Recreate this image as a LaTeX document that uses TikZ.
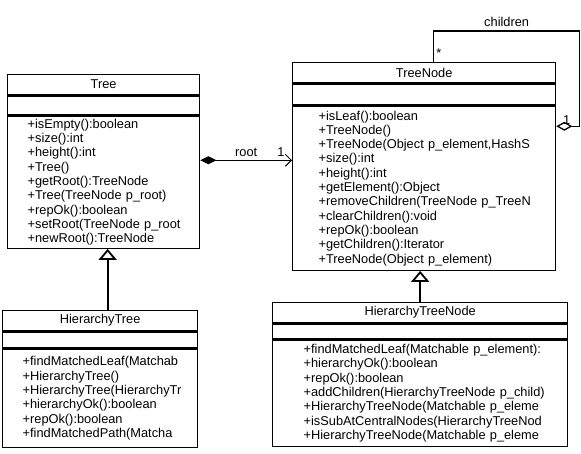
\documentclass[tikz,border=0pt]{standalone}
\usepackage{fontspec}
\setmainfont{Liberation Sans}
\usetikzlibrary{arrows.meta,positioning}

\begin{document}
\begin{tikzpicture}[
    x=1pt, y=-1pt, % pixel-like grid, y grows downwards
    node distance=0pt,
    every node/.style={font=\fontsize{12.8}{14.3}\selectfont},
    classbox/.style={draw, line width=1.3pt, inner sep=0pt, minimum width=#1},
    classname/.style={classbox=#1, minimum height=20pt},
    opsbox/.style={draw, line width=1.3pt, inner ysep=0pt, align=left},
    composition/.style={line width=1pt, {Diamond[length=16pt,width=8pt]}-{Straight Barb[length=6pt,width=12pt]}},
    aggregation/.style={line width=1.3pt, -{Diamond[open,length=16pt,width=9pt]}},
    inherit/.style={line width=1.8pt, -{Triangle[open,length=11pt,width=18pt]}}
]
\useasboundingbox (0,0) rectangle (581,453);

% Tree
\node[classname=192pt, anchor=north west] (tree) at (7,74) {Tree};
\node[classbox=192pt, minimum height=19pt, below=of tree] (treeattr) {};
\node[opsbox, text width=152pt, inner xsep=20pt, minimum height=132pt, below=of treeattr] (treeops)
  {+isEmpty():boolean\\ +size():int\\ +height():int\\ +Tree()\\ +getRoot():TreeNode\\
   +Tree(TreeNode~p\_root)\\ +repOk():boolean\\ +setRoot(TreeNode~p\_root\\ +newRoot():TreeNode};

% TreeNode
\node[classname=263pt, anchor=north west] (treenode) at (292,62) {TreeNode};
\node[classbox=263pt, minimum height=21pt, below=of treenode] (nodeattr) {};
\node[opsbox, text width=211pt, inner xsep=26pt, minimum height=164pt, below=of nodeattr] (nodeops)
  {+isLeaf():boolean\\ +TreeNode()\\ +TreeNode(Object~p\_element,HashS\\ +size():int\\ +height():int\\
   +getElement():Object\\ +removeChildren(TreeNode~p\_TreeN\\ +clearChildren():void\\
   +repOk():boolean\\ +getChildren():Iterator\\ +TreeNode(Object~p\_element)};

% HierarchyTree
\node[classname=195pt, anchor=north west] (htree) at (2,310) {HierarchyTree};
\node[classbox=195pt, minimum height=16pt, below=of htree] (htreeattr) {};
\node[opsbox, text width=155pt, inner xsep=20pt, minimum height=98pt, below=of htreeattr] (htreeops)
  {+findMatchedLeaf(Matchab\\ +HierarchyTree()\\ +HierarchyTree(HierarchyTr\\
   +hierarchyOk():boolean\\ +repOk():boolean\\ +findMatchedPath(Matcha};

% HierarchyTreeNode
\node[classname=295pt, anchor=north west] (hnode) at (272,302) {HierarchyTreeNode};
\node[classbox=295pt, minimum height=15pt, below=of hnode] (hnodeattr) {};
\node[opsbox, text width=233pt, inner xsep=31pt, minimum height=106pt, below=of hnodeattr] (hnodeops)
  {+findMatchedLeaf(Matchable~p\_element):\\ +hierarchyOk():boolean\\ +repOk():boolean\\
   +addChildren(HierarchyTreeNode~p\_child)\\ +HierarchyTreeNode(Matchable~p\_eleme\\
   +isSubAtCentralNodes(HierarchyTreeNod\\ +HierarchyTreeNode(Matchable~p\_eleme};

% Edges
\draw[composition] ([yshift=22pt]treeops.east)
  -- node[above] {root} node[pos=0.88, above] {1}
  ([yshift=22pt]treeops.east -| nodeops.west);

\draw[aggregation] ([xshift=9.5pt]treenode.north)
  -- node[pos=0.3, right, inner sep=2pt] {*} ++(0,-31)
  -- node[above] {children} ++(146,0)
  |- node[pos=0.78, above, inner sep=1pt] {1} ([yshift=62pt]nodeops.east);

\draw[inherit] ([xshift=7.5pt]htree.north) -- ([xshift=7.5pt]htree.north |- treeops.south);
\draw[inherit] (hnode.north) -- (hnode.north |- nodeops.south);

\end{tikzpicture}
\end{document}
